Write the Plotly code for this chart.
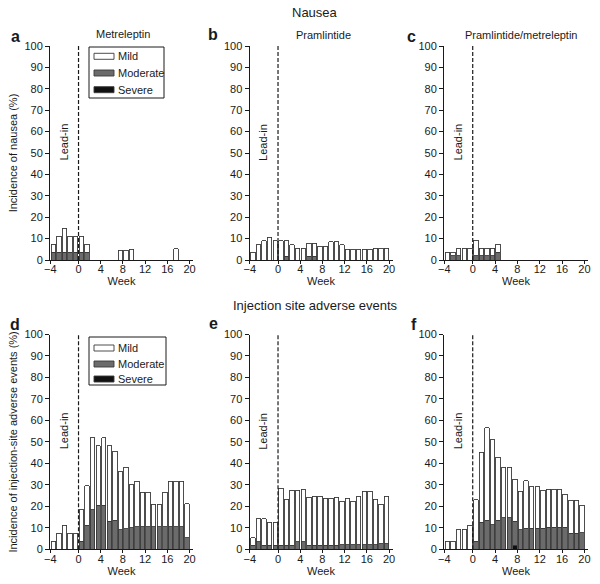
import plotly.graph_objects as go

# ---------------- data ----------------
# bar positions: 5 lead-in weeks followed by 20 treatment weeks
BAR_POS = [-4.5, -3.5, -2.5, -1.5, -0.5,
           0.55, 1.55, 2.55, 3.55, 4.55, 5.55, 6.55, 7.55, 8.55, 9.55,
           10.55, 11.55, 12.55, 13.55, 14.55, 15.55, 16.55, 17.55, 18.55, 19.55]
X_TICKVALS = [-5.1, 0, 4, 8, 12, 16, 20]
X_TICKTEXT = ["\u22124", "0", "4", "8", "12", "16", "20"]
Y_TICKVALS = [0, 10, 20, 30, 40, 50, 60, 70, 80, 90, 100]
SEVERITIES = ["Severe", "Moderate", "Mild"]
LEGEND_ORDER = ["Mild", "Moderate", "Severe"]

# Nausea - Metreleptin (a)
NAU_MET_MILD = [3.7, 7.4, 11.1, 7.4, 7.4,
                7.4, 3.7, 0, 0, 0, 0, 0, 4.5, 4.5, 5.0, 0, 0, 0, 0, 0, 0, 0, 5.3, 0, 0]
NAU_MET_MOD = [3.7, 3.7, 3.7, 3.7, 3.7,
               3.7, 3.7, 0, 0, 0, 0, 0, 0, 0, 0, 0, 0, 0, 0, 0, 0, 0, 0, 0, 0]
NAU_MET_SEV = [0] * 25

# Nausea - Pramlintide (b)
NAU_PRA_MILD = [3.6, 7.1, 8.9, 10.7, 8.9,
                8.9, 7.2, 7.1, 5.4, 5.4, 6.1, 6.1, 6.4, 6.4, 8.6,
                8.6, 7.1, 5.0, 5.0, 5.0, 5.0, 5.0, 5.4, 5.4, 5.4]
NAU_PRA_MOD = [0, 0, 0, 0, 0,
               0, 1.8, 0, 0, 0, 1.8, 1.8, 0, 0, 0,
               0, 0, 0, 0, 0, 0, 0, 0, 0, 0]
NAU_PRA_SEV = [0] * 25

# Nausea - Pramlintide/metreleptin (c)
NAU_COM_MILD = [3.7, 1.8, 3.7, 5.6, 5.6,
                7.4, 3.7, 3.7, 3.7, 3.7, 0, 0, 0, 0, 0, 0, 0, 0, 0, 0, 0, 0, 0, 0, 0]
NAU_COM_MOD = [0, 1.9, 1.9, 0, 0,
               1.9, 1.9, 1.9, 1.9, 3.7, 0, 0, 0, 0, 0, 0, 0, 0, 0, 0, 0, 0, 0, 0, 0]
NAU_COM_SEV = [0] * 25

# Injection site - Metreleptin (d)
INJ_MET_MILD = [3.7, 7.4, 11.1, 7.4, 7.4,
                14.8, 18.5, 33.4, 27.7, 31.5, 35.1, 32.0, 26.9, 28.7, 20.0,
                21.1, 16.0, 16.0, 10.5, 10.5, 16.0, 21.1, 21.1, 21.1, 15.8]
INJ_MET_MOD = [0, 0, 0, 0, 0,
               3.7, 11.1, 18.5, 20.4, 20.4, 13.0, 13.6, 9.1, 9.5, 10.0,
               10.5, 10.5, 10.5, 10.5, 10.5, 10.5, 10.5, 10.5, 10.5, 5.3]
INJ_MET_SEV = [0] * 25

# Injection site - Pramlintide (e)
INJ_PRA_MILD = [3.6, 10.7, 12.5, 10.7, 10.7,
                26.6, 21.5, 25.7, 23.9, 24.3, 22.4, 22.9, 22.9, 21.9, 21.9,
                22.4, 20.1, 21.5, 20.1, 22.6, 24.9, 24.9, 21.1, 18.3, 22.1]
INJ_PRA_MOD = [1.8, 3.6, 1.8, 1.8, 1.8,
               1.8, 1.8, 1.8, 3.6, 3.6, 1.8, 1.8, 1.8, 1.8, 1.8,
               1.8, 2.2, 2.2, 2.2, 2.2, 2.2, 2.2, 2.2, 2.6, 2.6]
INJ_PRA_SEV = [0] * 25

# Injection site - Pramlintide/metreleptin (f)
INJ_COM_MILD = [3.7, 3.7, 9.3, 9.3, 11.1,
                19.4, 32.8, 43.0, 39.5, 29.4, 23.5, 23.5, 19.5, 18.0, 22.0,
                19.2, 19.2, 17.5, 17.7, 17.7, 17.7, 15.3, 15.4, 15.4, 12.8]
INJ_COM_MOD = [0, 0, 0, 0, 0,
               3.7, 12.5, 13.5, 11.5, 13.5, 14.8, 14.8, 11.1, 9.0, 9.9,
               9.9, 9.9, 9.9, 10.3, 10.3, 10.3, 10.3, 7.5, 7.5, 7.7]
INJ_COM_SEV = [0, 0, 0, 0, 0,
               0, 0, 0, 0, 0, 0, 0, 1.9, 0, 0,
               0, 0, 0, 0, 0, 0, 0, 0, 0, 0]

PANEL_SERIES = [
    (NAU_MET_SEV, NAU_MET_MOD, NAU_MET_MILD),
    (NAU_PRA_SEV, NAU_PRA_MOD, NAU_PRA_MILD),
    (NAU_COM_SEV, NAU_COM_MOD, NAU_COM_MILD),
    (INJ_MET_SEV, INJ_MET_MOD, INJ_MET_MILD),
    (INJ_PRA_SEV, INJ_PRA_MOD, INJ_PRA_MILD),
    (INJ_COM_SEV, INJ_COM_MOD, INJ_COM_MILD),
]
PANEL_LETTERS = ["a", "b", "c", "d", "e", "f"]
PANEL_SUBTITLES = ["Metreleptin", "Pramlintide", "Pramlintide/metreleptin"]
ROW_TITLES = ["Nausea", "Injection site adverse events"]
Y_TITLES = ["Incidence of nausea (%)", "Incidence of injection-site adverse events (%)"]

# ---------------- style / layout ----------------
W, H = 600, 584
FONT = "Liberation Sans, Arial, Helvetica, sans-serif"
INK = "#1a1a1a"
FILL = {"Mild": "#ffffff", "Moderate": "#6b6b6b", "Severe": "#111111"}
EDGE = "#3a3a3a"

def px_x(v):
    return v / W

def px_y(v):
    return 1 - v / H

# plot area pixel boxes (left, right) per column, (top, bottom) per row
COLS = [(50, 193), (249.5, 392.5), (444, 588)]
ROWS = [(46, 260), (334.5, 549.3)]
X_RANGE = [-5.14, 20.63]

fig = go.Figure()
layout = dict(
    width=W, height=H,
    margin=dict(l=0, r=0, t=0, b=0, autoexpand=False),
    paper_bgcolor="white", plot_bgcolor="white",
    font=dict(family=FONT, size=11, color=INK),
    barmode="stack",
    showlegend=False,
)

annotations = []
shapes = []

for i, series in enumerate(PANEL_SERIES):
    r, c = divmod(i, 3)
    n = i + 1
    xa = "x" if n == 1 else f"x{n}"
    ya = "y" if n == 1 else f"y{n}"
    for name, vals in zip(SEVERITIES, series):
        # zero-incidence weeks have no bar at all
        yvals = [v if v else None for v in vals]
        fig.add_trace(go.Bar(
            x=BAR_POS, y=yvals, name=name, width=0.8,
            marker=dict(color=FILL[name], line=dict(color=EDGE, width=0.9)),
            xaxis=xa, yaxis=ya, showlegend=False,
            hoverinfo="x+y+name",
        ))

    (x0, x1), (y0, y1) = COLS[c], ROWS[r]
    xkey = "xaxis" if n == 1 else f"xaxis{n}"
    ykey = "yaxis" if n == 1 else f"yaxis{n}"
    layout[xkey] = dict(
        domain=[px_x(x0), px_x(x1)], anchor=ya, range=X_RANGE,
        tickmode="array", tickvals=X_TICKVALS, ticktext=X_TICKTEXT,
        showline=True, linecolor=INK, linewidth=1,
        ticks="outside", ticklen=3, tickcolor=INK, tickwidth=1,
        ticklabelstandoff=-4,
        showgrid=False, zeroline=False, automargin=False,
        tickfont=dict(size=11, family=FONT, color=INK),
        title=dict(text="Week", font=dict(size=11, family=FONT, color=INK), standoff=3),
        fixedrange=True,
    )
    ydict = dict(
        domain=[px_y(y1), px_y(y0)], anchor=xa, range=[0, 100],
        tickmode="array", tickvals=Y_TICKVALS,
        showline=True, linecolor=INK, linewidth=1,
        ticks="outside", ticklen=4, tickcolor=INK, tickwidth=1,
        showgrid=False, zeroline=False, automargin=False,
        tickfont=dict(size=11, family=FONT, color=INK),
        fixedrange=True,
    )
    if c == 0:
        ydict["title"] = dict(text=Y_TITLES[r], font=dict(size=11, family=FONT, color=INK), standoff=4)
    layout[ykey] = ydict

    # dashed line at week 0 (start of treatment)
    shapes.append(dict(type="line", xref=xa, yref=ya, x0=0, x1=0, y0=0, y1=100,
                       line=dict(color=INK, width=1.2, dash="4px,2px"), layer="above"))
    # Lead-in label
    annotations.append(dict(xref=xa, yref=ya, x=-2.6, y=55, text="Lead-in", textangle=-90,
                            showarrow=False, font=dict(size=11, family=FONT, color=INK),
                            xanchor="center", yanchor="middle"))

# severity key boxes (panels a and d): box (l, t, r, b) and row centres in px
KEY_BOXES = [((89, 47, 164, 98), [56.3, 73.0, 89.7]),
             ((89, 337, 166, 385), [348.0, 364.0, 379.0])]
for (bl, bt, br, bb), rows in KEY_BOXES:
    shapes.append(dict(type="rect", xref="paper", yref="paper",
                       x0=px_x(bl), x1=px_x(br), y0=px_y(bb), y1=px_y(bt),
                       line=dict(color=INK, width=1), fillcolor="white", layer="above"))
    for name, cy in zip(LEGEND_ORDER, rows):
        shapes.append(dict(type="rect", xref="paper", yref="paper",
                           x0=px_x(bl + 5), x1=px_x(bl + 25), y0=px_y(cy + 3), y1=px_y(cy - 3),
                           line=dict(color=EDGE, width=0.9), fillcolor=FILL[name], layer="above"))
        annotations.append(dict(xref="paper", yref="paper", x=px_x(bl + 27), y=px_y(cy), text=name,
                                showarrow=False, font=dict(size=11, family=FONT, color=INK),
                                xanchor="left", yanchor="middle"))

# panel letters
LETTER_POS = [(15, 36), (213, 35), (411, 36), (15, 325), (213, 323), (414, 325)]
for letter, (lx, ly) in zip(PANEL_LETTERS, LETTER_POS):
    annotations.append(dict(xref="paper", yref="paper", x=px_x(lx), y=px_y(ly), text=f"<b>{letter}</b>",
                            showarrow=False, font=dict(size=16, family=FONT, color=INK),
                            xanchor="center", yanchor="middle"))

# column subtitles (top row)
SUB_POS = [(123.3, 34.5), (323.3, 35), (521.3, 35)]
for txt, (sx, sy) in zip(PANEL_SUBTITLES, SUB_POS):
    annotations.append(dict(xref="paper", yref="paper", x=px_x(sx), y=px_y(sy), text=txt,
                            showarrow=False, font=dict(size=11, family=FONT, color=INK),
                            xanchor="center", yanchor="middle"))

# row titles
ROW_TITLE_POS = [(315, 12.5), (315.5, 305)]
for txt, (tx, ty) in zip(ROW_TITLES, ROW_TITLE_POS):
    annotations.append(dict(xref="paper", yref="paper", x=px_x(tx), y=px_y(ty), text=txt,
                            showarrow=False, font=dict(size=13, family=FONT, color=INK),
                            xanchor="center", yanchor="middle"))

layout["annotations"] = annotations
layout["shapes"] = shapes

fig.update_layout(**layout)
fig.write_html(
    "out.html",
    config={"displayModeBar": False},
    post_script="document.body.style.margin='0';document.body.style.overflow='hidden';",
)
